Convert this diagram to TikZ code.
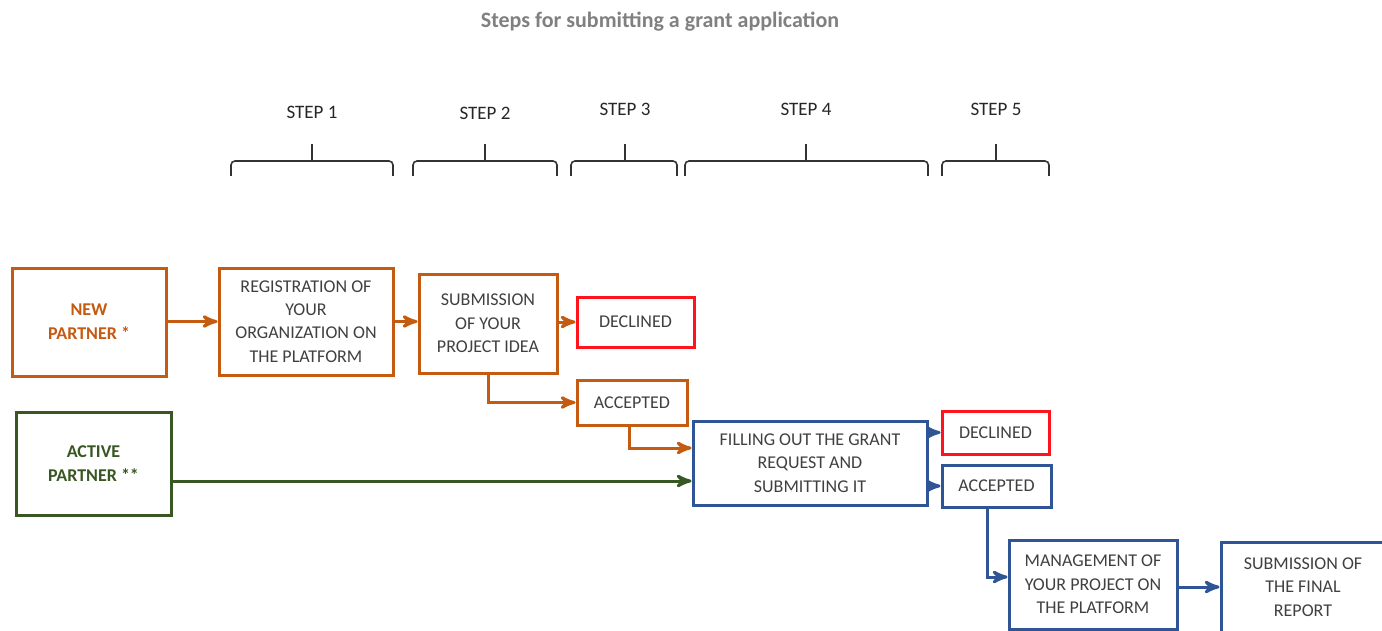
\documentclass[tikz,border=0pt]{standalone}
\usepackage{fontspec}
\setmainfont{Carlito}
\usepackage{tikz}
\usetikzlibrary{arrows}

\definecolor{boxorange}{RGB}{197,90,17}
\definecolor{boxgreen}{RGB}{56,87,35}
\definecolor{boxblue}{RGB}{47,85,151}
\definecolor{boxred}{RGB}{255,20,30}
\definecolor{boxtext}{RGB}{64,64,64}

\begin{document}
\begin{tikzpicture}[x=0.5pt,y=-0.5pt,>=stealth',line width=1.5pt,
  box node/.style={rectangle,draw,fill=white,inner sep=0pt,align=center,
    text=boxtext,font=\fontsize{9}{11.7}\selectfont},
  orange node/.style={box node,draw=boxorange},
  green node/.style={box node,draw=boxgreen},
  blue node/.style={box node,draw=boxblue},
  red node/.style={box node,draw=boxred},
  step label/.style={font=\fontsize{9.5}{11}\selectfont,text=black!85}]
  \useasboundingbox (0,0) rectangle (1382,631);

  \node[font=\bfseries\fontsize{11}{13}\selectfont,text=black!50] (title) at (660,22) {Steps for submitting a grant application};

  % steps
  \foreach \a/\b/\m/\ly/\n in {231/393/312/112/1,413/557/485/113/2,571/677/625/109/3,685/928/806/109/4,942/1049/996/109/5}{
    \node[step label] (s\n) at (\m,\ly) {STEP \n};
    \draw[line width=0.8pt,black!80,rounded corners=2pt] (\a,176) -- (\a,161) -- (\b,161) -- (\b,176);
    \draw[line width=0.8pt,black!80] (\m,161) -- (\m,144);
  }

  \node[orange node,minimum width=77pt,minimum height=54pt,text=boxorange,font=\bfseries\fontsize{9}{12}\selectfont] (new) at (89,322) {NEW\\PARTNER *};
  \node[orange node,minimum width=87pt,minimum height=53.5pt] (reg) at (306,321.5) {REGISTRATION OF\\YOUR\\ORGANIZATION ON\\THE PLATFORM};
  \node[orange node,minimum width=69pt,minimum height=49.5pt] (idea) at (488,323.5) {SUBMISSION\\OF YOUR\\PROJECT IDEA};
  \node[red node,minimum width=58.5pt,minimum height=25pt] (dec1) at (635.5,322) {DECLINED};
  \node[orange node,minimum width=55pt,minimum height=22.5pt] (acc1) at (632,402.5) {ACCEPTED};
  \node[green node,minimum width=77.5pt,minimum height=51.5pt,text=boxgreen,font=\bfseries\fontsize{9}{12}\selectfont] (active) at (93.5,463.5) {ACTIVE\\PARTNER **};
  \node[blue node,minimum width=117pt,minimum height=42pt] (fill) at (810,463) {FILLING OUT THE GRANT\\REQUEST AND\\SUBMITTING IT};
  \node[red node,minimum width=53.5pt,minimum height=21.5pt] (dec2) at (995.5,432.5) {DECLINED};
  \node[blue node,minimum width=54.5pt,minimum height=21pt] (acc2) at (996.5,486) {ACCEPTED};
  \node[blue node,minimum width=84pt,minimum height=44.5pt] (mgmt) at (1093,584.5) {MANAGEMENT OF\\YOUR PROJECT ON\\THE PLATFORM};
  \node[blue node,minimum width=82pt,minimum height=45pt] (final) at (1303,587) {SUBMISSION OF\\THE FINAL\\REPORT};

  % connectors
  \draw[->,boxorange] (new.east |- reg) -- (reg);
  \draw[->,boxorange] (reg.east) -- (reg.east -| idea.west);
  \draw[->,boxorange] (idea.east |- dec1) -- (dec1);
  \draw[->,boxorange] (idea.south) |- (acc1.west);
  \draw[->,boxorange] ([xshift=-1.5pt]acc1.south) |- ([yshift=7.5pt]fill.west);
  \draw[->,boxgreen] ([yshift=-8.75pt]active.east) -- ([yshift=-8.75pt]active.east -| fill.west);
  \draw[->,boxblue] (fill.east |- dec2) -- (dec2);
  \draw[->,boxblue] (fill.east |- acc2) -- (acc2);
  \draw[->,boxblue] ([xshift=-4.75pt]acc2.south) |- ([yshift=3.75pt]mgmt.west);
  \draw[->,boxblue] (mgmt.east |- final) -- (final);
\end{tikzpicture}
\end{document}
